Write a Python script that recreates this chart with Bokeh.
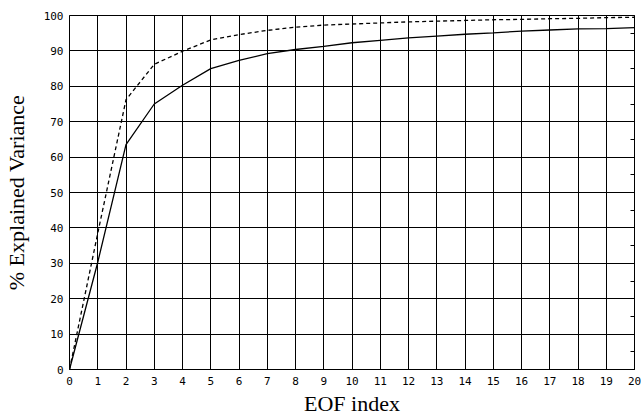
from bokeh.plotting import figure
from bokeh.models import LinearAxis, FixedTicker, Range1d
from bokeh.embed import file_html
from bokeh.resources import INLINE

eof_index = list(range(21))
explained = [0, 30.3, 63.5, 75.0, 80.3, 85.0, 87.3, 89.2, 90.4, 91.3, 92.3,
             93.0, 93.7, 94.2, 94.7, 95.1, 95.6, 95.9, 96.2, 96.3, 96.6]
explained_dash = [0, 38.5, 76.2, 86.2, 89.9, 93.1, 94.6, 95.8, 96.7, 97.3, 97.6,
                  97.9, 98.2, 98.4, 98.6, 98.8, 98.9, 99.1, 99.2, 99.4, 99.5]
x_ticks = list(range(0, 21))
y_ticks = list(range(0, 101, 10))
y_right_ticks = list(range(0, 101, 5))

p = figure(width=643, height=418, x_range=Range1d(0, 20), y_range=Range1d(0, 100),
           output_backend="svg", toolbar_location=None,
           min_border_left=69, min_border_top=15, min_border_right=9,
           min_border_bottom=49, x_axis_label="EOF index",
           y_axis_label="% Explained Variance")

p.background_fill_color = "white"
p.border_fill_color = "white"
p.outline_line_color = "black"
p.outline_line_width = 1
p.outline_line_alpha = 1

for ax in (p.xaxis[0], p.yaxis[0]):
    ax.major_label_text_font = "DejaVu Sans Mono"
    ax.major_label_text_font_size = "11px"
    ax.major_label_text_color = "black"
    ax.axis_label_text_font = "Liberation Serif"
    ax.axis_label_text_font_size = "22px"
    ax.axis_label_text_font_style = "normal"
    ax.axis_label_text_color = "black"
    ax.axis_line_color = "black"
    ax.major_tick_out = 0
    ax.major_tick_in = 0
    ax.minor_tick_out = 0
    ax.minor_tick_in = 0

p.xaxis[0].major_label_standoff = 7
p.yaxis[0].major_label_standoff = 6
p.xaxis[0].ticker = FixedTicker(ticks=x_ticks)
p.yaxis[0].ticker = FixedTicker(ticks=y_ticks)
p.xaxis[0].axis_label_standoff = 3
p.yaxis[0].axis_label_standoff = 12

right = LinearAxis(ticker=FixedTicker(ticks=[], minor_ticks=y_right_ticks),
                   major_tick_out=0, major_tick_in=0, minor_tick_out=0,
                   minor_tick_in=4, axis_line_color="black",
                   minor_tick_line_color="black")
p.add_layout(right, "right")

p.xgrid.ticker = FixedTicker(ticks=x_ticks)
p.ygrid.ticker = FixedTicker(ticks=y_ticks)
for g in (p.xgrid[0], p.ygrid[0]):
    g.grid_line_color = "black"
    g.grid_line_alpha = 1
    g.grid_line_width = 1

p.line(eof_index, explained, line_color="black", line_width=1.3)
p.line(eof_index, explained_dash, line_color="black", line_width=1.3, line_dash="4 3")

open("out.html", "w").write(file_html(p, INLINE))
